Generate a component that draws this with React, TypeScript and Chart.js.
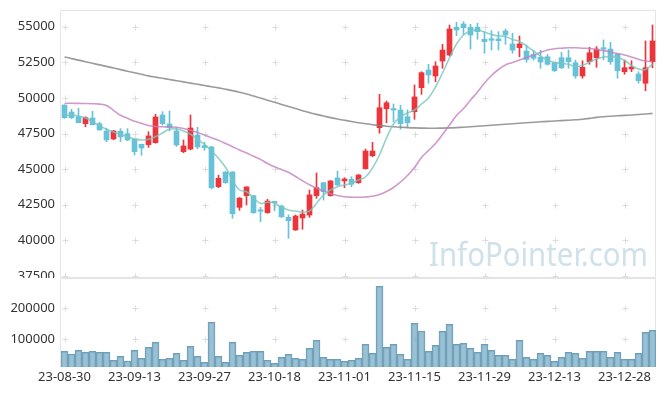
import React, { useEffect, useRef } from "react";
import { Chart, registerables } from "chart.js";

Chart.register(...registerables);

const dates = [
  "23-08-30", "23-08-31", "23-09-01", "23-09-04", "23-09-05", "23-09-06", "23-09-07", "23-09-08", "23-09-11", "23-09-12",
  "23-09-13", "23-09-14", "23-09-15", "23-09-18", "23-09-19", "23-09-20", "23-09-21", "23-09-22", "23-09-25", "23-09-26",
  "23-09-27", "23-10-04", "23-10-05", "23-10-06", "23-10-10", "23-10-11", "23-10-12", "23-10-13", "23-10-16", "23-10-17",
  "23-10-18", "23-10-19", "23-10-20", "23-10-23", "23-10-24", "23-10-25", "23-10-26", "23-10-27", "23-10-30", "23-10-31",
  "23-11-01", "23-11-02", "23-11-03", "23-11-06", "23-11-07", "23-11-08", "23-11-09", "23-11-10", "23-11-13", "23-11-14",
  "23-11-15", "23-11-16", "23-11-17", "23-11-20", "23-11-21", "23-11-22", "23-11-23", "23-11-24", "23-11-27", "23-11-28",
  "23-11-29", "23-11-30", "23-12-01", "23-12-04", "23-12-05", "23-12-06", "23-12-07", "23-12-08", "23-12-11", "23-12-12",
  "23-12-13", "23-12-14", "23-12-15", "23-12-18", "23-12-19", "23-12-20", "23-12-21", "23-12-22", "23-12-26", "23-12-27",
  "23-12-28", "24-01-02", "24-01-03", "24-01-04", "24-01-05",
];

const opens = [
  49500, 49010, 48680, 48190, 48590, 48190, 47680, 47120, 47660, 47490,
  47100, 46740, 46720, 46860, 48800, 48170, 47680, 46230, 46410, 47400,
  46650, 46560, 43770, 44800, 44800, 42320, 43140, 43140, 42080, 41950,
  42700, 42410, 41620, 40730, 41570, 41780, 43140, 44050, 43140, 44380,
  44170, 44290, 44050, 45030, 45940, 47910, 49240, 49190, 49150, 48680,
  49030, 50720, 51960, 51540, 52590, 53010, 54960, 55190, 54960, 54960,
  54120, 54120, 54140, 54700, 53790, 53530, 53290, 53050, 52850, 52890,
  52470, 52820, 52820, 52470, 51540, 52540, 52820, 53460, 53430, 53060,
  51840, 52030, 51680, 51030, 52540,
];
const highs = [
  49520, 49200, 49270, 48680, 49060, 48290, 47870, 47720, 47840, 47840,
  47110, 46760, 47630, 48850, 49030, 49080, 47910, 47050, 48800, 47940,
  46880, 46600, 44570, 44830, 44830, 43000, 43770, 43160, 42320, 42880,
  42720, 42480, 41780, 41780, 42130, 43540, 44730, 44060, 44200, 44870,
  44400, 44470, 44620, 46410, 46880, 50250, 49780, 49570, 49480, 49150,
  50910, 51840, 52360, 52540, 53760, 55120, 55310, 55350, 55170, 55240,
  54650, 54720, 54650, 54840, 54540, 54350, 53720, 53300, 53340, 53050,
  52500, 53200, 53360, 52660, 52610, 53550, 53600, 54070, 53900, 53100,
  52660, 52610, 51840, 54000, 55120,
];
const lows = [
  48570, 48540, 48250, 47980, 48100, 47740, 46930, 47060, 46930, 47000,
  45990, 45970, 46530, 46820, 48100, 47680, 46600, 46150, 46350, 46430,
  46320, 43600, 43700, 44000, 41550, 42110, 42480, 41900, 41310, 41900,
  42080, 41600, 40150, 40700, 40780, 41620, 42950, 42830, 43100, 43850,
  43700, 43770, 44000, 45000, 45870, 47520, 48260, 48330, 47800, 47940,
  48500, 50250, 51030, 51140, 52080, 52940, 54370, 54470, 53430, 54120,
  53130, 53360, 53360, 53760, 53130, 52890, 52500, 52650, 52080, 52300,
  51850, 52050, 52080, 51380, 51380, 52360, 52150, 52660, 52360, 51380,
  51660, 51840, 51030, 50510, 52120,
];
const closes = [
  48610, 48610, 48260, 48610, 48120, 47750, 47050, 47680, 47260, 47050,
  46230, 46480, 47330, 48660, 48190, 47910, 46700, 46630, 47890, 46560,
  46510, 43700, 44360, 44050, 41870, 42970, 43750, 41940, 42040, 42760,
  42630, 41660, 41380, 41710, 41850, 43190, 43700, 43420, 44170, 43890,
  44310, 43940, 44590, 46270, 46270, 49310, 49660, 49150, 48190, 48260,
  50070, 51770, 51610, 52240, 53360, 54840, 54770, 54930, 54420, 54650,
  53950, 54050, 54020, 54420, 53360, 53790, 52700, 52780, 52520, 52360,
  51910, 52120, 52540, 51540, 52150, 53170, 53430, 53420, 52540, 51910,
  52120, 52170, 51210, 52120, 54000,
];

const volumes = [
  61282, 52570, 64510, 58040, 61280, 58040, 58040, 32250, 45150, 29990,
  64510, 38700, 74190, 90320, 35470, 38700, 54830, 32250, 77410, 45150,
  25800, 154840, 45150, 25800, 90320, 48380, 58040, 61280, 61280, 32250,
  22570, 41930, 51610, 38700, 35470, 70960, 96770, 41930, 35470, 35470,
  29020, 32250, 38700, 83860, 54830, 270970, 74190, 83860, 51610, 35470,
  151610, 126770, 61280, 80640, 125800, 148380, 83860, 87090, 70960, 58040,
  83860, 64510, 48380, 48380, 35470, 96770, 41930, 35470, 54830, 48380,
  29020, 41930, 58040, 54830, 38700, 61280, 61280, 61280, 41930, 58040,
  35470, 35470, 54830, 122580, 129030,
];

const ma5 = [
  48752, 48801, 48731, 48590, 48331, 48050, 47797, 47608, 47446, 47278,
  47137, 47046, 47095, 47278, 47537, 47797, 47818, 47678, 47446, 47095,
  46744, 46295, 45761, 45130, 44238, 43536, 43417, 42974, 42602, 42672,
  42623, 42321, 42132, 42062, 41992, 42062, 42602, 43185, 43536, 43768,
  43887, 44007, 44238, 44449, 45080, 45993, 47186, 48169, 48661, 48941,
  49152, 49573, 49994, 50767, 51749, 52802, 53785, 54417, 54698, 54768,
  54628, 54452, 54347, 54312, 54101, 53961, 53645, 53294, 52943, 52662,
  52487, 52416, 52360, 52206, 52276, 52522, 52732, 52873, 52894, 52873,
  52627, 52276, 52030, 51995, 52381,
];
const ma20 = [
  49622, 49622, 49615, 49608, 49594, 49566, 49468, 49131, 48780, 48570,
  48359, 48218, 48064, 47994, 47973, 47959, 47937, 47853, 47727, 47572,
  47397, 47207, 47025, 46800, 46576, 46344, 46133, 45902, 45677, 45396,
  45165, 44975, 44779, 44484, 44182, 43901, 43655, 43466, 43269, 43150,
  43066, 43031, 43024, 43045, 43094, 43220, 43431, 43711, 44098, 44554,
  45116, 45818, 46309, 46800, 47432, 48099, 48766, 49257, 49854, 50416,
  51047, 51574, 51995, 52311, 52487, 52662, 52837, 53013, 53189, 53364,
  53448, 53490, 53518, 53518, 53490, 53469, 53399, 53315, 53224, 53118,
  53013, 52873, 52711, 52592, 52543,
];
const ma60 = [
  52873, 52760, 52655, 52543, 52430, 52318, 52213, 52100, 51988, 51876,
  51770, 51658, 51546, 51461, 51377, 51293, 51209, 51125, 51040, 50956,
  50872, 50788, 50703, 50612, 50514, 50402, 50275, 50135, 49994, 49840,
  49693, 49545, 49398, 49250, 49103, 48969, 48843, 48731, 48618, 48520,
  48429, 48345, 48260, 48183, 48120, 48064, 48015, 47980, 47945, 47917,
  47895, 47881, 47874, 47874, 47881, 47895, 47917, 47945, 47973, 48008,
  48043, 48078, 48113, 48148, 48190, 48225, 48260, 48296, 48324, 48352,
  48380, 48408, 48436, 48464, 48499, 48562, 48633, 48682, 48717, 48745,
  48773, 48801, 48836, 48871, 48913,
];

const priceTicks = [37500, 40000, 42500, 45000, 47500, 50000, 52500, 55000];
const volumeTicks = [100000, 200000];
const labelEvery = 10;

const UP = "#ec343a";
const DOWN = "#67c1d8";
const FONT = "'Noto Sans', 'DejaVu Sans', sans-serif";

function decorPlugin(yId: string, yTicks: number[], watermark: boolean) {
  return {
    id: "decor_" + yId,
    beforeDatasetsDraw(chart: any) {
      const { ctx, chartArea: a, scales } = chart;
      ctx.save();
      if (watermark) {
        ctx.fillStyle = "#cfe1ea";
        ctx.font = "33px " + FONT;
        ctx.textBaseline = "alphabetic";
        ctx.textAlign = "left";
        ctx.fillText("InfoPointer.com", 429, 266, 219);
      }
      ctx.strokeStyle = "#e4e4e4";
      ctx.lineWidth = 1;
      const l = Math.round(a.left) - 0.5;
      const r = Math.round(a.right) - 0.5;
      const t = Math.round(a.top) + 0.5;
      const b = Math.round(a.bottom) - 0.5;
      ctx.beginPath();
      ctx.moveTo(l, t);
      ctx.lineTo(r, t);
      ctx.lineTo(r, b);
      ctx.lineTo(l, b);
      ctx.closePath();
      ctx.stroke();
      ctx.strokeStyle = "#dcdcdc";
      const xs = scales.x;
      const ys = scales[yId];
      ctx.beginPath();
      for (let i = 0; i < dates.length; i += labelEvery) {
        const x = Math.round(xs.getPixelForValue(i)) + 0.5;
        for (const v of yTicks) {
          const y = Math.round(ys.getPixelForValue(v)) + 0.5;
          ctx.moveTo(x - 3, y);
          ctx.lineTo(x + 3, y);
          ctx.moveTo(x, y - 3);
          ctx.lineTo(x, y + 3);
        }
      }
      ctx.stroke();
      ctx.restore();
    },
  };
}

const fixYAxis = (s: any) => {
  s.width = 61;
  s.paddingTop = 0;
  s.paddingBottom = 0;
};

export default function App() {
  const topRef = useRef<HTMLCanvasElement>(null);
  const botRef = useRef<HTMLCanvasElement>(null);

  useEffect(() => {
    const colors = opens.map((o, i) => (closes[i] >= o ? UP : DOWN));

    const top = new Chart(topRef.current as HTMLCanvasElement, {
      type: "bar",
      data: {
        labels: dates,
        datasets: [
          {
            type: "line",
            label: "MA5",
            data: ma5,
            borderColor: "rgba(120,198,188,0.8)",
            borderWidth: 1.6,
            pointRadius: 0,
            tension: 0.4,
            order: 0,
            yAxisID: "y",
          } as any,
          {
            type: "line",
            label: "MA20",
            data: ma20,
            borderColor: "rgba(196,126,190,0.8)",
            borderWidth: 1.6,
            pointRadius: 0,
            tension: 0.4,
            order: 0,
            yAxisID: "y",
          },
          {
            type: "line",
            label: "MA60",
            data: ma60,
            borderColor: "rgba(130,130,130,0.8)",
            borderWidth: 1.6,
            pointRadius: 0,
            tension: 0.4,
            order: 0,
            yAxisID: "y",
          },
          {
            type: "bar",
            label: "body",
            data: opens.map((o, i) => [o, closes[i]]),
            backgroundColor: colors,
            barThickness: 5,
            minBarLength: 1.5,
            grouped: false,
            order: 1,
            yAxisID: "y",
          },
          {
            type: "bar",
            label: "wick",
            data: lows.map((l, i) => [l, highs[i]]),
            backgroundColor: colors,
            barThickness: 1,
            grouped: false,
            order: 2,
            yAxisID: "y",
          },
        ],
      } as any,
      options: {
        responsive: false,
        animation: false,
        events: [],
        layout: { padding: { top: 10, right: 9, left: 0, bottom: 0 } },
        plugins: { legend: { display: false }, tooltip: { enabled: false } },
        scales: {
          x: { display: false, offset: true },
          y: {
            position: "left",
            min: 37358,
            max: 56172,
            afterFit: fixYAxis,
            afterBuildTicks: (s: any) => {
              s.ticks = priceTicks.map((v) => ({ value: v }));
            },
            grid: { display: false, drawTicks: false },
            border: { display: false },
            ticks: {
              padding: 6,
              color: "#333",
              font: { family: FONT, size: 13 },
              callback: (v: any) => String(v),
            },
          },
        },
      } as any,
      plugins: [decorPlugin("y", priceTicks, true)],
    });

    const bot = new Chart(botRef.current as HTMLCanvasElement, {
      type: "bar",
      data: {
        labels: dates,
        datasets: [
          {
            label: "Volume",
            data: volumes,
            backgroundColor: "rgba(128,176,200,0.8)",
            borderColor: "rgba(95,148,176,0.9)",
            borderWidth: 1,
            barPercentage: 1,
            categoryPercentage: 1,
            yAxisID: "yv",
          },
        ],
      },
      options: {
        responsive: false,
        animation: false,
        events: [],
        layout: { padding: { top: 0, right: 9, left: 0, bottom: 0 } },
        plugins: { legend: { display: false }, tooltip: { enabled: false } },
        scales: {
          x: {
            offset: true,
            afterFit: (s: any) => {
              s.height = 29;
            },
            grid: { display: false, drawTicks: false },
            border: { display: false },
            ticks: {
              autoSkip: false,
              maxRotation: 0,
              minRotation: 0,
              padding: 2,
              color: "#333",
              font: { family: FONT, size: 13 },
              callback: (_v: any, i: number) => (i % labelEvery === 0 ? dates[i] : ""),
            },
          },
          yv: {
            position: "left",
            min: 10650,
            max: 297700,
            afterFit: fixYAxis,
            afterBuildTicks: (s: any) => {
              s.ticks = volumeTicks.map((v) => ({ value: v }));
            },
            grid: { display: false, drawTicks: false },
            border: { display: false },
            ticks: {
              padding: 6,
              color: "#333",
              font: { family: FONT, size: 13 },
              callback: (v: any) => String(v),
            },
          },
        },
      } as any,
      plugins: [decorPlugin("yv", volumeTicks, false)],
    });

    return () => {
      top.destroy();
      bot.destroy();
    };
  }, []);

  return (
    <div style={{ position: "fixed", left: 0, top: 0, width: 665, height: 396, background: "#fff" }}>
      <canvas ref={topRef} width={665} height={278} style={{ display: "block", width: 665, height: 278 }} />
      <canvas ref={botRef} width={665} height={118} style={{ display: "block", width: 665, height: 118 }} />
    </div>
  );
}
